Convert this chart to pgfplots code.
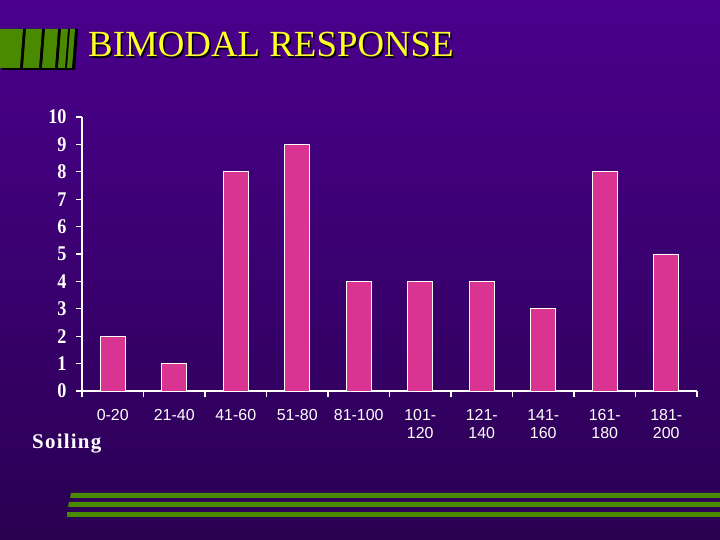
\documentclass[border=0pt]{standalone}
\usepackage{pgfplots}
\pgfplotsset{compat=1.18}
\usepackage{fontspec}
\setmainfont{Liberation Serif}
\newfontfamily\ynum{Liberation Serif}[FakeStretch=0.87]
\newfontfamily\xlab{Liberation Sans}
\newfontfamily\soil{Liberation Serif}[LetterSpace=6]

\definecolor{bgtop}{RGB}{74,0,140}
\definecolor{bgbot}{RGB}{42,0,82}
\definecolor{barpink}{RGB}{218,52,146}
\definecolor{deco}{RGB}{74,138,0}
\definecolor{titleyel}{RGB}{255,255,40}

\begin{document}
\begin{tikzpicture}
% background
\shade[top color=bgtop, bottom color=bgbot] (0,0) rectangle (720bp,540bp);
\useasboundingbox (0,0) rectangle (720bp,540bp);

% green blocks top left (decoration)
\fill[black] (2bp,470bp) -- (75bp,470bp) -- (78bp,511bp) -- (2bp,511bp) -- cycle;
\fill[deco] (0,472bp) -- (20bp,472bp) -- (23bp,511bp) -- (0,511bp) -- cycle;
\fill[deco] (23bp,472bp) -- (39bp,472bp) -- (42bp,511bp) -- (26bp,511bp) -- cycle;
\fill[deco] (42bp,472bp) -- (55bp,472bp) -- (58bp,511bp) -- (45bp,511bp) -- cycle;
\fill[deco] (58bp,472bp) -- (65bp,472bp) -- (68bp,511bp) -- (61bp,511bp) -- cycle;
\fill[deco] (67bp,472bp) -- (72bp,472bp) -- (75bp,511bp) -- (70bp,511bp) -- cycle;

% title
\node[anchor=base west, inner sep=0, text=black] at (89.5bp,481.5bp) {\fontsize{37}{40}\selectfont BIMODAL RESPONSE};
\node[anchor=base west, inner sep=0, text=titleyel] at (88bp,483bp) {\fontsize{37}{40}\selectfont BIMODAL RESPONSE};

% green stripes bottom (decoration)
\fill[deco] (71bp,47bp) -- (720bp,47bp) -- (720bp,42bp) -- (70bp,42bp) -- cycle;
\fill[deco] (69bp,38bp) -- (720bp,38bp) -- (720bp,33bp) -- (68bp,33bp) -- cycle;
\fill[deco] (67bp,28bp) -- (720bp,28bp) -- (720bp,23bp) -- (67bp,23bp) -- cycle;

\begin{axis}[
  scale only axis, width=615bp, height=274bp,
  at={(82bp,149bp)}, anchor=south west,
  xmin=0, xmax=10, ymin=0, ymax=10,
  axis x line*=bottom, axis y line*=left,
  axis line style={white, line width=1.3bp},
  tick style={white, line width=1.2bp},
  tick align=outside,
  major tick length=6bp, minor tick length=6bp,
  /pgf/number format/assume math mode=true,
  ytick={0,1,2,3,4,5,6,7,8,9,10},
  xtick={0.5,1.5,2.5,3.5,4.5,5.5,6.5,7.5,8.5,9.5},
  minor xtick={0,1,2,3,4,5,6,7,8,9,10},
  major x tick style={draw=none},
  xticklabels={0-20,21-40,41-60,51-80,81-100,{101-\\120},{121-\\140},{141-\\160},{161-\\180},{181-\\200}},
  xticklabel style={text=white, align=center, anchor=north, yshift=-9bp,
    font=\xlab\fontsize{16}{18}\selectfont},
  yticklabel style={text=white, xshift=-6bp, font=\ynum\bfseries\fontsize{21}{22}\selectfont},
  every axis plot/.append style={ybar, bar width=0.41, bar shift=0pt},
]
\addplot[fill=barpink, draw=white, line width=0.8bp] coordinates {
  (0.5,2) (1.5,1) (2.5,8) (3.5,9) (4.5,4)
  (5.5,4) (6.5,4) (7.5,3) (8.5,8) (9.5,5)
};
\end{axis}

\node[anchor=base west, inner sep=0, text=white] at (32bp,91bp) {\soil\bfseries\fontsize{21}{24}\selectfont Soiling};
\end{tikzpicture}
\end{document}
